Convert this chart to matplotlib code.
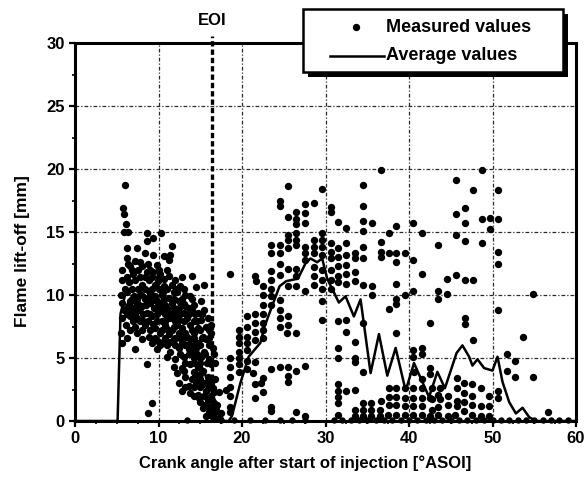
import matplotlib
matplotlib.use("Agg")
import matplotlib.pyplot as plt
from matplotlib.patches import Rectangle
from matplotlib.lines import Line2D
from matplotlib.ticker import MultipleLocator

# ---- measured flame lift-off: (crank angle [deg ASOI], lift-off [mm]) ----
early_spray = [
    (6.0, 18.7), (5.7, 16.9), (5.85, 16.4), (6.1, 15.6), (5.85, 15.0), (6.4, 15.0),
    (8.6, 14.9), (10.3, 14.9), (9.4, 14.5), (8.6, 14.3), (11.6, 13.9),
    (6.2, 13.7), (7.4, 13.7), (8.4, 13.3), (9.4, 13.2), (11.4, 13.2), (10.6, 13.1),
    (6.2, 12.9), (11.2, 12.8), (7.2, 12.7), (6.4, 12.5), (8.8, 12.5), (9.8, 12.4),
    (8.0, 12.3), (5.65, 12.0), (6.8, 12.0), (7.6, 12.0), (9.0, 12.0), (10.0, 12.0), (11.0, 12.0),
    (10.2, 11.7), (11.2, 11.5), (14.0, 11.5), (12.0, 11.2), (15.5, 10.8), (12.6, 10.7), (14.5, 10.6),
    (6.2, 11.4), (7.8, 11.4), (8.4, 11.4), (9.2, 11.4), (10.0, 11.4), (12.8, 11.4),
    (5.65, 11.2), (6.44, 11.0), (7.23, 11.2), (8.02, 10.8), (8.81, 11.2), (9.6, 10.8),
    (10.6, 10.7), (11.6, 10.8),
    (6.0, 10.5), (6.8, 10.5), (7.6, 10.5), (8.4, 10.5), (9.2, 10.5), (10.0, 10.5),
    (11.0, 10.5), (12.2, 10.5), (13.0, 10.5),
    (5.45, 10.0), (6.25, 10.2), (7.04, 9.9), (7.83, 10.0), (8.81, 10.3), (9.6, 9.9),
    (10.4, 10.0), (11.2, 9.8), (12.2, 10.2), (13.2, 10.0), (13.8, 9.9),
    (6.8, 9.7), (7.4, 9.7), (8.4, 9.7), (9.2, 9.7), (10.6, 9.7), (11.8, 9.7), (12.8, 9.7), (14.0, 9.7),
    (5.65, 9.4), (6.44, 9.2), (7.23, 9.5), (8.02, 9.1), (9.01, 9.4), (9.8, 9.5), (10.8, 9.2),
    (11.6, 9.4), (12.4, 9.5), (13.2, 9.1), (14.3, 9.2), (15.1, 9.5),
    (6.2, 9.0), (7.0, 9.0), (7.8, 9.0), (9.8, 9.0), (10.6, 9.0), (11.8, 9.0), (13.6, 9.0),
    (5.85, 8.8), (6.84, 8.7), (7.63, 8.8), (8.62, 8.6), (9.41, 9.0), (10.2, 8.7), (11.2, 8.6),
    (12.2, 8.8), (13.0, 8.6), (14.0, 8.8), (14.7, 8.6), (15.5, 8.8),
    (6.2, 8.5), (7.2, 8.5), (8.2, 8.5), (9.0, 8.5), (9.8, 8.5), (10.8, 8.5), (11.6, 8.5),
    (12.6, 8.5), (13.6, 8.5), (14.4, 8.5), (15.2, 8.5),
    (5.65, 8.2), (6.64, 8.3), (8.02, 8.0), (9.21, 8.3), (10.4, 7.9), (11.4, 8.2), (12.4, 8.0),
    (13.4, 8.2), (14.3, 7.9), (15.1, 8.0), (15.9, 8.2),
    (7.0, 7.9), (7.8, 7.9), (8.8, 7.9), (9.8, 7.9), (10.8, 7.9), (12.0, 7.9), (13.0, 7.9), (14.6, 7.9),
    (6.05, 7.6), (7.23, 7.5), (8.42, 7.6), (9.6, 7.4), (10.8, 7.6), (11.8, 7.5), (12.8, 7.4),
    (13.8, 7.6), (14.7, 7.4), (15.7, 7.5), (16.3, 7.6),
    (6.6, 7.2), (8.0, 7.2), (9.0, 7.2), (10.4, 7.2), (11.6, 7.2), (12.8, 7.2), (14.0, 7.2),
    (15.0, 7.2), (16.0, 7.2),
    (5.45, 7.0), (7.43, 7.0), (8.81, 6.7), (10.2, 7.0), (11.2, 6.9), (12.4, 7.0), (13.4, 6.7),
    (14.3, 7.0), (15.3, 6.7), (16.3, 7.0),
    (6.2, 6.6), (9.6, 6.6), (10.8, 6.6), (12.0, 6.6), (13.0, 6.6), (14.2, 6.6), (15.2, 6.6), (16.0, 6.6),
    (5.65, 6.2), (8.02, 6.5), (9.21, 6.2), (10.6, 6.3), (11.8, 6.5), (12.8, 6.2), (13.8, 6.5),
    (14.7, 6.2), (15.7, 6.5),
    (10.2, 6.0), (11.0, 6.0), (12.0, 6.0), (13.2, 6.0), (14.2, 6.0), (15.0, 6.0), (16.0, 6.0),
    (7.23, 5.7), (9.8, 5.7), (11.4, 5.5), (12.4, 5.8), (13.6, 5.7), (14.5, 5.8), (15.5, 5.5), (16.5, 5.8),
    (12.6, 5.3), (13.6, 5.3), (14.6, 5.3), (15.6, 5.3), (16.6, 5.3),
    (8.62, 4.5), (11.0, 5.1), (12.0, 4.9), (13.0, 5.1), (14.2, 5.0), (15.1, 5.1), (16.1, 4.9),
    (13.2, 4.6), (14.2, 4.6), (15.0, 4.6), (15.8, 4.6), (16.8, 4.6),
    (11.8, 4.3), (12.8, 4.2), (13.8, 4.5), (14.7, 4.3), (15.3, 4.0), (16.3, 4.5),
    (12.2, 3.8), (13.2, 3.5), (14.2, 3.9), (15.0, 3.7), (15.9, 3.5),
    (14.0, 3.3), (15.0, 3.3), (16.0, 3.3), (16.8, 3.3),
    (12.4, 3.0), (13.6, 2.8), (14.5, 3.0), (15.3, 2.9), (16.3, 3.0),
    (13.2, 2.7), (14.2, 2.7), (15.0, 2.7), (16.0, 2.7),
    (12.8, 2.4), (13.8, 2.2), (14.7, 2.1), (15.7, 2.4), (16.6, 2.3), (17.3, 2.3),
    (14.3, 2.0), (15.5, 2.0), (16.3, 2.0),
    (14.9, 1.8), (15.9, 1.7), (16.7, 1.4),
    (15.5, 1.3), (16.5, 1.3), (17.0, 1.3),
    (15.3, 1.0), (16.1, 1.1), (16.9, 0.9), (17.5, 0.6),
    (16.0, 0.7), (16.8, 0.7),
    (15.7, 0.4), (16.5, 0.3), (17.3, 0.2),
    (9.2, 1.4), (8.8, 0.6), (18.1, 2.5),
    (6.6, 12.3), (7.8, 12.6), (9.4, 11.8), (10.6, 11.3), (11.8, 10.2), (12.4, 9.0),
    (7.4, 8.2), (9.4, 7.7), (10.0, 6.3), (11.4, 6.3), (12.6, 6.6), (13.4, 6.0),
    (14.0, 5.5), (13.0, 4.0), (14.4, 3.6), (15.5, 3.0), (16.5, 2.6), (15.0, 1.5),
    (16.2, 0.5), (7.0, 11.7), (8.6, 11.8), (9.9, 11.1), (10.5, 10.2), (6.6, 9.5),
    (7.6, 9.3), (8.5, 9.2), (9.0, 10.1), (10.2, 9.3), (11.0, 9.0), (12.0, 8.3),
    (13.0, 9.3), (11.0, 7.3), (12.2, 7.6), (13.2, 7.0),
]

second_rise = [
    (18.6, 11.7), (21.6, 11.5), (21.7, 11.1),
    (23.5, 14.0), (23.5, 13.3), (23.5, 11.9), (23.5, 11.2), (23.5, 10.5), (23.5, 9.9), (23.5, 9.2),
    (24.5, 17.5), (24.5, 17.1), (24.5, 14.0), (24.5, 13.3), (24.5, 12.5), (24.5, 11.6),
    (24.5, 9.6), (24.5, 8.8), (24.5, 8.2), (24.5, 7.5),
    (25.5, 18.65), (25.5, 16.2), (25.5, 14.8), (25.5, 14.4), (25.5, 13.7), (25.5, 12.1),
    (25.5, 10.7), (25.5, 8.3), (25.5, 7.6), (25.4, 7.0),
    (26.5, 16.6), (26.5, 16.0), (26.5, 15.6), (26.5, 14.9), (26.5, 14.4), (26.5, 14.0),
    (26.5, 12.1), (26.5, 11.5), (26.5, 10.7), (26.5, 7.0),
    (27.6, 17.2), (27.6, 16.5), (27.6, 15.7), (27.6, 13.8), (27.6, 13.3), (27.6, 12.8), (27.6, 10.3),
    (28.6, 17.3), (28.6, 14.4), (28.6, 13.8), (28.6, 13.3), (28.6, 12.2), (28.6, 11.5), (28.6, 10.8),
    (29.6, 18.4), (29.6, 14.9), (29.6, 14.4), (29.6, 13.8), (29.6, 13.2), (29.6, 12.0),
    (29.6, 11.2), (29.6, 10.5), (29.6, 9.5), (29.6, 8.0),
    (30.6, 17.0), (30.6, 16.6), (30.6, 14.1), (30.6, 13.4), (30.6, 12.9), (30.6, 12.0),
    (30.6, 11.2), (30.6, 10.5),
    (31.5, 15.8), (31.5, 13.7), (31.5, 13.0), (31.5, 12.3), (31.5, 11.5), (31.5, 11.0),
    (31.5, 7.9), (31.5, 5.8), (31.5, 5.0), (31.5, 2.9), (31.5, 2.4), (31.5, 1.9), (31.5, 1.4), (31.5, 0.5),
    (22.5, 10.7), (22.5, 10.0), (22.5, 9.2), (22.5, 8.5), (22.5, 7.8), (22.5, 7.2), (22.5, 6.6),
    (22.5, 3.4), (22.5, 2.3), (22.3, 3.0),
    (21.6, 8.5), (21.6, 7.8), (21.6, 7.1), (21.6, 6.4), (21.6, 4.7), (21.3, 3.8), (21.6, 2.9), (21.6, 1.8),
    (20.6, 8.3), (20.6, 7.5), (20.6, 6.7), (20.6, 6.2), (20.6, 5.6), (20.6, 4.8), (20.6, 4.1),
    (19.6, 7.2), (19.6, 6.7), (19.6, 6.2), (19.6, 5.5), (19.6, 5.0), (19.6, 4.5), (19.6, 3.9),
    (18.6, 5.0), (18.6, 4.3), (18.6, 3.5), (18.6, 2.7), (18.6, 2.0), (18.6, 1.1), (18.6, 0.7),
    (23.5, 4.1), (24.5, 4.3), (25.5, 4.3), (26.5, 4.0), (27.6, 4.4), (25.5, 3.6), (25.5, 3.1),
    (23.5, 1.1), (23.5, 0.8), (26.5, 0.7), (27.6, 0.4),
]

late_phase = [
    (32.5, 15.3), (32.5, 14.1), (32.5, 13.2), (32.5, 12.4), (32.5, 11.7), (32.5, 10.9),
    (32.5, 8.0), (32.5, 7.1), (32.5, 2.4),
    (33.5, 13.3), (33.5, 12.9), (33.5, 11.8), (33.5, 11.1), (33.5, 6.3), (33.5, 5.0), (33.5, 4.7), (33.5, 2.5),
    (34.5, 18.7), (34.5, 17.1), (34.5, 15.9), (34.5, 15.1), (34.5, 13.8), (34.5, 12.9),
    (34.5, 10.8), (34.5, 7.8), (34.5, 3.9),
    (35.6, 15.7), (35.6, 10.7), (35.6, 10.0),
    (36.6, 19.9), (36.6, 14.2), (36.6, 13.4), (36.6, 13.0), (36.6, 1.6),
    (37.6, 14.9), (37.6, 13.3), (37.6, 8.9), (37.6, 2.6), (37.6, 1.9), (37.6, 1.3),
    (38.5, 15.5), (38.5, 13.3), (38.5, 12.6), (38.5, 10.9), (38.5, 9.7), (38.5, 9.3),
    (38.5, 7.0), (38.5, 2.6), (38.5, 1.9), (38.5, 1.3),
    (39.5, 13.3), (39.5, 10.0), (39.5, 2.6), (39.5, 1.8), (39.5, 1.2),
    (40.5, 15.7), (40.5, 12.8), (40.5, 10.3), (40.5, 5.6), (40.5, 5.1), (40.5, 2.6),
    (40.5, 1.8), (40.5, 1.2), (40.6, 3.9),
    (41.5, 14.9), (41.5, 11.7), (41.5, 5.8), (41.5, 5.3), (41.5, 3.3), (41.5, 2.6), (41.5, 1.8), (41.5, 1.2),
    (42.5, 7.8), (42.5, 4.2), (42.5, 3.7), (42.5, 1.8),
    (43.5, 14.0), (43.5, 10.3), (43.5, 9.7), (43.5, 2.1),
    (44.5, 11.3), (44.5, 10.1),
    (45.6, 19.1), (45.6, 16.4), (45.6, 14.8), (45.6, 11.6),
    (45.7, 3.4), (45.7, 2.6), (45.7, 1.6), (45.7, 1.2),
    (46.7, 16.9), (46.7, 15.7), (46.7, 14.3), (46.7, 11.2), (46.7, 8.2), (46.7, 7.7),
    (46.6, 3.0), (46.6, 2.2), (46.6, 1.5), (46.6, 0.8),
    (47.7, 18.3), (47.7, 11.2), (47.7, 6.4), (47.6, 2.9), (47.6, 2.0), (47.6, 1.3), (47.6, 0.5),
    (48.7, 19.9), (48.7, 16.0), (48.7, 14.1), (48.6, 2.6), (48.6, 1.2), (48.6, 0.4),
    (49.7, 16.1), (49.7, 15.2), (49.6, 2.0), (49.6, 1.2), (49.6, 0.4),
    (50.7, 18.3), (50.7, 16.0), (50.7, 13.4), (50.7, 12.5), (50.7, 8.8), (50.7, 2.4), (50.7, 1.8),
    (51.7, 5.3), (51.7, 4.0), (52.7, 4.8), (52.7, 3.5), (53.7, 6.7),
    (54.8, 10.1), (54.8, 3.5), (56.7, 0.7),
    (42.7, 2.6), (42.7, 1.75), (42.7, 0.9), (43.7, 2.6), (43.7, 1.75),
    (44.7, 2.0), (44.7, 1.3), (44.7, 0.4),
    (33.5, 0.4), (33.5, 0.9), (34.5, 0.4), (34.5, 0.9), (34.5, 1.4), (35.5, 0.4), (35.5, 0.9),
    (35.5, 1.4), (36.5, 0.4), (36.5, 0.9), (37.5, 0.5), (38.5, 0.5), (39.5, 0.5), (40.5, 0.5),
    (41.5, 0.5), (42.5, 0.4), (43.5, 0.5), (43.5, 1.1), (45.5, 0.5),
]

# cycles without lifted flame (lift-off on the axis)
zero_angle = [13.4, 17.5, 19.0, 21.0, 22.8, 24.5, 26.0, 27.5, 31.0, 32.0, 33.0, 34.0, 35.0,
              36.0, 37.0, 38.0, 39.0, 40.0, 41.0, 42.0, 43.0, 44.0, 45.0, 46.0, 47.0, 48.0,
              49.0, 50.0, 51.0, 52.0, 53.0, 54.0, 55.0, 56.0, 57.0, 58.0, 59.0]
zero_lift = [0.05, 0.05, 0.05, 0.05, 0.05, 0.05, 0.05, 0.05, 0.05, 0.05, 0.05, 0.05, 0.05,
             0.05, 0.05, 0.05, 0.05, 0.05, 0.05, 0.05, 0.05, 0.05, 0.05, 0.05, 0.05, 0.05,
             0.05, 0.05, 0.05, 0.05, 0.05, 0.05, 0.05, 0.05, 0.05, 0.05, 0.05]

# ---- cycle-averaged lift-off ----
avg_angle = [0, 5.1, 5.45, 6.0, 7.0, 8.0, 9.0, 10.0, 11.0, 12.0, 13.0, 14.0, 15.0, 16.0, 17.0,
             17.8, 18.4, 18.8, 19.8, 20.8, 22.2, 22.7, 23.7, 24.5, 25.3, 26.7, 27.6, 28.2,
             29.0, 29.6, 30.2, 31.6, 32.4, 33.4, 34.2, 35.4, 36.4, 37.4, 38.4, 39.6, 40.6,
             42.4, 43.4, 44.3, 45.7, 46.4, 47.2, 47.6, 48.2, 49.0, 50.0, 50.6, 51.2, 52.0,
             52.8, 53.6, 54.4, 55.2, 60]
avg_lift = [0, 0, 8.5, 10.0, 10.5, 10.2, 9.6, 9.2, 8.7, 8.0, 7.2, 6.0, 4.6, 3.0, 1.2,
            0, 0, 0.4, 3.0, 5.1, 6.2, 7.5, 9.3, 10.7, 11.1, 11.3, 12.5, 12.9,
            12.6, 12.9, 11.3, 9.4, 9.9, 8.3, 9.65, 3.8, 6.9, 3.6, 5.8, 2.4, 4.6,
            1.9, 3.9, 2.6, 5.4, 6.0, 5.1, 4.4, 4.9, 4.2, 4.0, 5.1, 3.1, 1.5,
            0.6, 1.05, 0.3, 0, 0]

eoi_angle = 16.4

FONT = ["Liberation Sans", "DejaVu Sans"]
plt.rcParams["font.family"] = FONT
plt.rcParams["font.weight"] = "bold"

W, H = 585, 488
fig = plt.figure(figsize=(W / 100, H / 100), dpi=100)
fig.patch.set_facecolor("white")

ax_l, ax_r, ax_t, ax_b = 75, 576, 43, 421
ax = fig.add_axes([ax_l / W, 1 - ax_b / H, (ax_r - ax_l) / W, (ax_b - ax_t) / H])
ax.set_xlim(0, 60)
ax.set_ylim(0, 30)

grid_kw = dict(color="#2a2a2a", linewidth=0.9, dashes=(3, 1.6, 1, 1.6), zorder=1)
for gx in [10, 20, 30, 40, 50]:
    ax.axvline(gx, **grid_kw)
for gy in [5, 10, 15, 20, 25]:
    ax.axhline(gy, **grid_kw)

ax.axvline(eoi_angle, ymin=0, ymax=1.018, color="black", linewidth=2.4,
           dashes=(1.6, 0.9), clip_on=False, zorder=2)
ax.text(eoi_angle, 31.2, "EOI", ha="center", va="bottom", fontsize=12,
        fontweight="bold")

for pts in (early_spray, second_rise, late_phase):
    xs = [p[0] for p in pts]
    ys = [p[1] for p in pts]
    ax.plot(xs, ys, "o", color="black", markersize=5.3, markeredgewidth=0, zorder=3,
            clip_on=False)
ax.plot(zero_angle, zero_lift, "o", color="black", markersize=4.6, markeredgewidth=0,
        zorder=3, clip_on=False)

ax.plot(avg_angle, avg_lift, color="black", linewidth=1.8, zorder=4, clip_on=False)

for side in ["left", "bottom", "top", "right"]:
    ax.spines[side].set_linewidth(2.2)
    ax.spines[side].set_zorder(5)

ax.xaxis.set_major_locator(MultipleLocator(10))
ax.xaxis.set_minor_locator(MultipleLocator(2.5))
ax.yaxis.set_major_locator(MultipleLocator(5))
ax.yaxis.set_minor_locator(MultipleLocator(2.5))
ax.tick_params(which="major", direction="out", length=4.5, width=1.6, labelsize=12, pad=3)
ax.tick_params(which="minor", direction="out", length=2.5, width=1.2)
for lbl in ax.get_xticklabels() + ax.get_yticklabels():
    lbl.set_fontweight("bold")

ax.set_xlabel("Crank angle after start of injection [°ASOI]", fontsize=12,
              fontweight="bold")
ax.set_ylabel("Flame lift-off [mm]", fontsize=12.5, fontweight="bold")
ax.xaxis.set_label_coords(0.46, -0.09)
ax.yaxis.set_label_coords(-0.09, 0.45)

# legend box with solid drop shadow, laid out in pixel units
ov = fig.add_axes([0, 0, 1, 1], zorder=10)
ov.set_xlim(0, W)
ov.set_ylim(H, 0)
ov.axis("off")
ov.patch.set_alpha(0)
bx0, by0, bx1, by1 = 303, 9, 563, 72
ov.add_patch(Rectangle((bx0 + 5, by0 + 5), bx1 - bx0, by1 - by0, facecolor="black",
                       edgecolor="black", linewidth=0))
ov.add_patch(Rectangle((bx0, by0), bx1 - bx0, by1 - by0, facecolor="white",
                       edgecolor="black", linewidth=1.8))
ov.add_line(Line2D([356], [27], marker="o", color="black", markersize=5.3,
                   markeredgewidth=0))
ov.add_line(Line2D([330, 384], [56, 56], color="black", linewidth=1.8))
ov.text(386, 27, "Measured values", ha="left", va="center", fontsize=13,
        fontweight="bold")
ov.text(386, 55, "Average values", ha="left", va="center", fontsize=13,
        fontweight="bold")

fig.savefig("out.png", dpi=100, facecolor="white")
